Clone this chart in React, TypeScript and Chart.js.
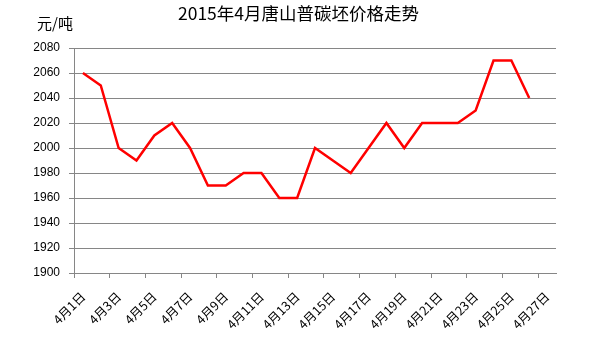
import React, { useEffect, useRef } from 'react';
import { Chart, registerables } from 'chart.js';
Chart.register(...registerables);

const chartTitle = '2015年4月唐山普碳坯价格走势';
const unitLabel = '元/吨';
const categories = [
  '4月1日', '4月2日', '4月3日', '4月4日', '4月5日', '4月6日', '4月7日', '4月8日', '4月9日',
  '4月10日', '4月11日', '4月12日', '4月13日', '4月14日', '4月15日', '4月16日', '4月17日', '4月18日',
  '4月19日', '4月20日', '4月21日', '4月22日', '4月23日', '4月24日', '4月25日', '4月26日', '4月27日',
];
const prices: (number | null)[] = [
  2060, 2050, 2000, 1990, 2010, 2020, 2000, 1970, 1970, 1980, 1980, 1960, 1960, 2000,
  1990, 1980, 2000, 2020, 2000, 2020, 2020, 2020, 2030, 2070, 2070, 2040, null,
];
const yMin = 1900;
const yMax = 2080;
const yStep = 20;

const GRID = '#868686';

const textPlugin = {
  id: 'texts',
  afterDraw(chart: any) {
    const { ctx, chartArea } = chart;
    ctx.save();
    ctx.fillStyle = '#000';
    ctx.font = '17.5px "Noto Sans CJK SC"';
    ctx.textAlign = 'center';
    ctx.textBaseline = 'middle';
    ctx.fillText(chartTitle, 298.5, 13);
    ctx.font = '15px "Noto Sans CJK SC"';
    ctx.textAlign = 'left';
    ctx.fillText(unitLabel, chartArea.left - 37, chartArea.top - 25);
    ctx.restore();
  },
};

export default function App() {
  const ref = useRef<HTMLCanvasElement | null>(null);
  useEffect(() => {
    if (!ref.current) return;
    const chart = new Chart(ref.current, {
      type: 'line',
      data: {
        labels: categories,
        datasets: [
          {
            data: prices,
            borderColor: '#FF0000',
            borderWidth: 2.5,
            pointRadius: 0,
            tension: 0,
            fill: false,
          },
        ],
      },
      options: {
        responsive: false,
        animation: false,
        layout: { padding: { left: 0, top: 48, right: 41, bottom: 0 } },
        plugins: { legend: { display: false }, tooltip: { enabled: false }, title: { display: false } },
        scales: {
          x: {
            offset: true,
            grid: {
              offset: true,
              drawOnChartArea: false,
              drawTicks: true,
              tickLength: 5,
              color: (c: any) => (c.index % 2 === 0 ? GRID : 'rgba(0,0,0,0)'),
            },
            border: { color: GRID },
            ticks: {
              autoSkip: false,
              minRotation: 45,
              maxRotation: 45,
              padding: 11,
              color: '#000',
              font: { family: '"Noto Sans CJK SC"', size: 12.5 },
              callback: (_v: any, i: number) => (i % 2 === 0 ? categories[i] : ''),
            },
            afterFit: (s: any) => {
              s.height = 69;
            },
          },
          y: {
            min: yMin,
            max: yMax,
            grid: { color: GRID, tickLength: 5 },
            border: { color: GRID },
            ticks: {
              stepSize: yStep,
              padding: 9,
              color: '#000',
              font: { family: '"Liberation Sans"', size: 12 },
              callback: (v: any) => String(v),
            },
            afterFit: (s: any) => {
              s.width = 74;
            },
          },
        },
      },
      plugins: [textPlugin],
    });
    return () => chart.destroy();
  }, []);
  return (
    <div style={{ position: 'fixed', left: 0, top: 0, width: 597, height: 342, background: '#fff' }}>
      <canvas ref={ref} width={597} height={342} style={{ width: 597, height: 342 }} />
    </div>
  );
}
